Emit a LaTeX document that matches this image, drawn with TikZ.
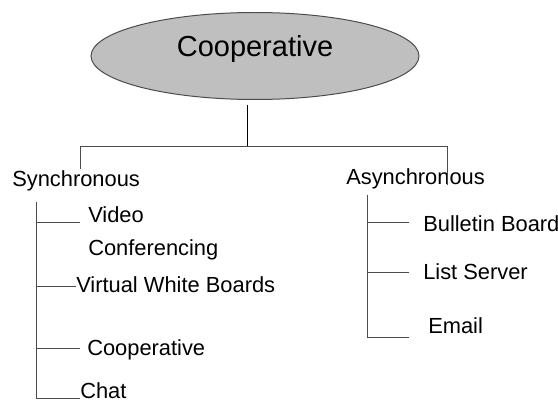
\documentclass[tikz,border=0pt]{standalone}
\usepackage{fontspec}
\setmainfont{Liberation Sans}
\usetikzlibrary{positioning,shapes.geometric,calc}

\begin{document}
\begin{tikzpicture}[x=0.75pt, y=-0.75pt,
  item/.style={anchor=base west, inner sep=0pt, align=left,
               font=\fontsize{16.4}{24.75}\selectfont},
  link/.style={draw=black!70, line width=0.75pt},
  ]
  \useasboundingbox (0,0) rectangle (558,403);
  \node[ellipse, draw=black!70, line width=0.75pt, fill=black!25,
        minimum width=246pt, minimum height=65.25pt,
        text height=12pt, text depth=10.5pt,
        font=\fontsize{21.75}{26}\selectfont] (root) at (255,56) {Cooperative};
  \node[item] (sync) at (12,187) {Synchronous};
  \node[item] (async) at (346,185) {Asynchronous};
  % synchronous tools
  \node[item] (video) at (88,256) {Video\\Conferencing};
  \node[item] (virt) at (76,292) {Virtual White Boards};
  \node[item] (coop) at (87,355) {Cooperative};
  \node[item] (chat) at (80,398) {Chat};
  % asynchronous tools
  \node[item] (board) at (423,232) {Bulletin Board};
  \node[item] (list) at (423,280) {List Server};
  \node[item] (mail) at (428,334) {Email};

  \coordinate (stem) at (247,105);
  \coordinate (hub) at (247,147);
  \coordinate (ltop) at (36,202);
  \coordinate (rtop) at (367,195);
  \draw[link, draw=black] (stem) -- (hub);
  \draw[link] (hub) -| (80,169);
  \draw[link] (hub) -| (447,185);
  \draw[link] (ltop) -- (ltop |- 0,398);
  \draw[link] (rtop) -- (rtop |- 0,337);
  \foreach \n/\dy/\gap in {video/-33/8, virt/-5/0, coop/-7/7, chat/0/0}
    \draw[link] (ltop |- {$(\n.base west)+(0,\dy)$}) -- ($(\n.base west)+(-\gap,\dy)$);
  \foreach \n/\dy/\gap in {board/-9/14, list/-7/14, mail/3/19}
    \draw[link] (rtop |- {$(\n.base west)+(0,\dy)$}) -- ($(\n.base west)+(-\gap,\dy)$);
\end{tikzpicture}
\end{document}
